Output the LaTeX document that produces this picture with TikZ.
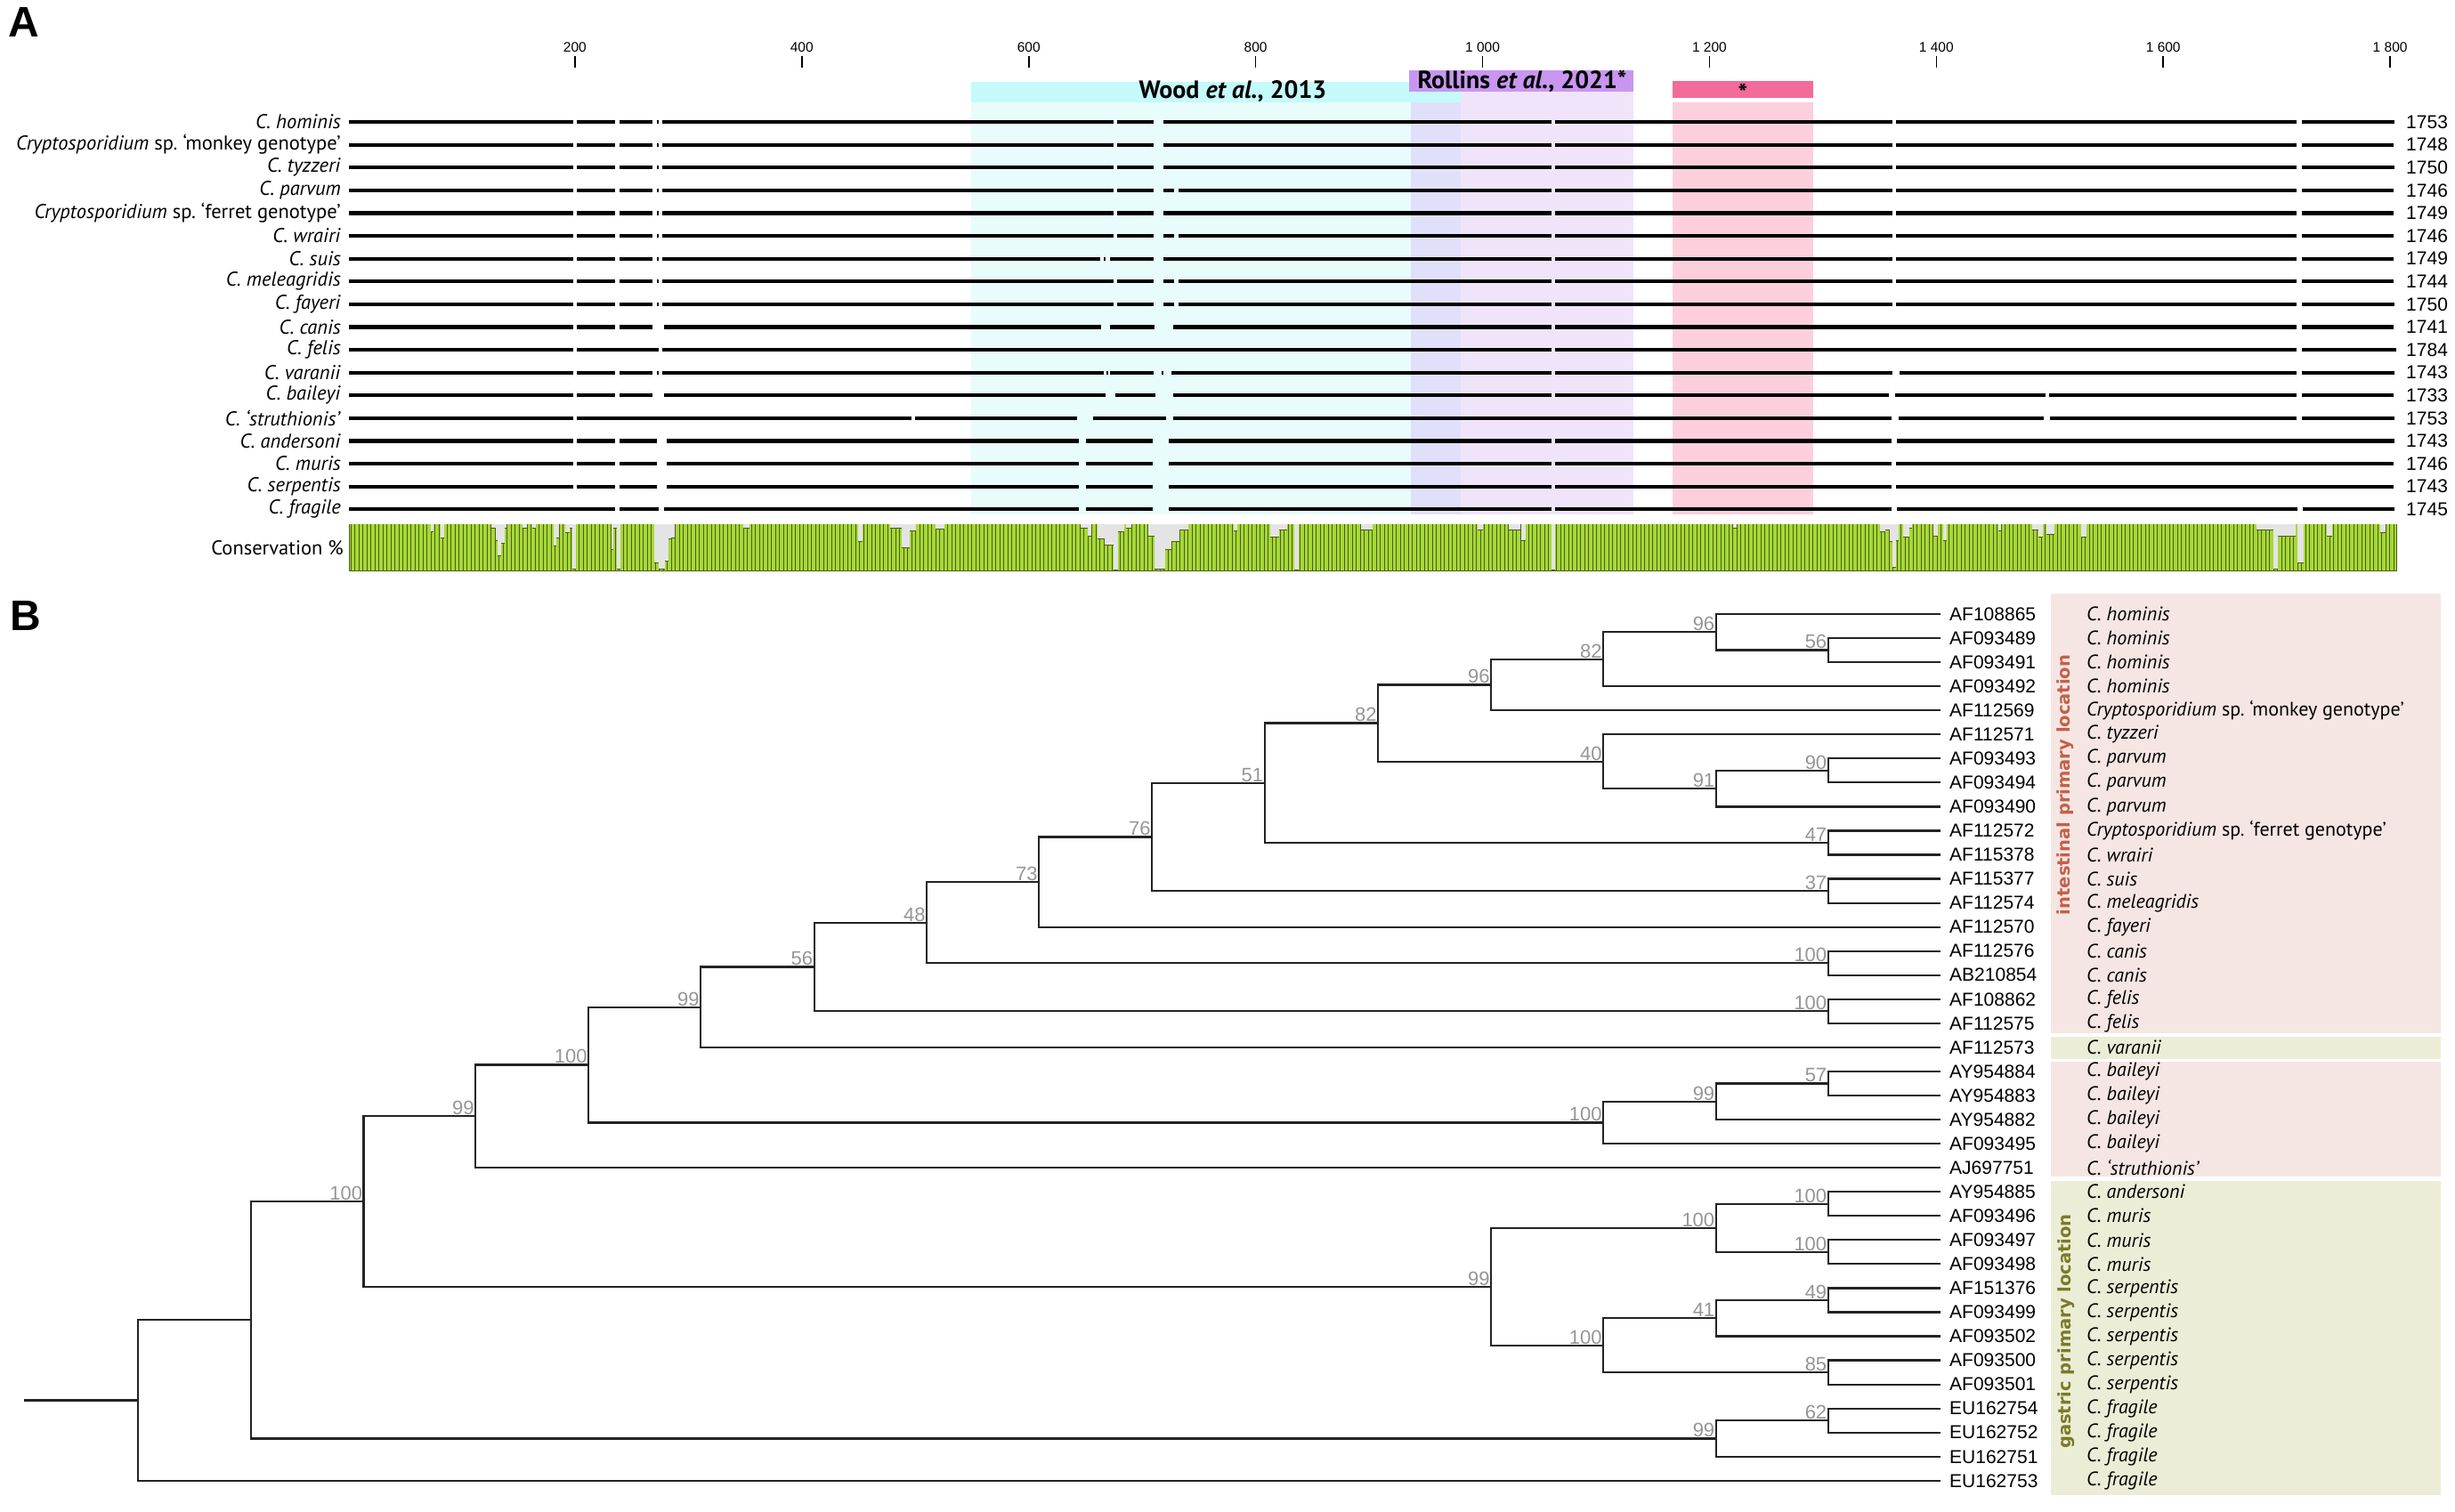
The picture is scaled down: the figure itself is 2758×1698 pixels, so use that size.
\documentclass[tikz,border=0pt]{standalone}
\usepackage{fontspec}
\setmainfont{Liberation Sans}
\newfontfamily\pts{PT Sans}
\newfontfamily\dvs{DejaVu Sans}
\definecolor{cyanH}{HTML}{C4FAFA}
\definecolor{cyanL}{HTML}{E8FCFC}
\definecolor{lavL}{HTML}{E0E0FA}
\definecolor{purH}{HTML}{C896F0}
\definecolor{purL}{HTML}{F0E4FA}
\definecolor{pinkH}{HTML}{F26B9B}
\definecolor{pinkL}{HTML}{FDCFDD}
\definecolor{consG}{HTML}{A6D838}
\definecolor{consD}{HTML}{4B5F12}
\definecolor{dipG}{HTML}{E4E4E4}
\definecolor{boxP}{HTML}{F5E6E3}
\definecolor{boxG}{HTML}{ECEDD6}
\definecolor{intC}{RGB}{196,96,72}
\definecolor{gasC}{RGB}{122,122,40}
\definecolor{bootC}{RGB}{150,150,150}
\definecolor{treeC}{RGB}{35,35,35}
\begin{document}
\begin{tikzpicture}[x=1pt,y=-1pt,
  seq/.style={line width=4.2pt,black},
  spA/.style={font=\pts\fontsize{22.5}{25}\selectfont,anchor=east,inner sep=0pt},
  lenA/.style={font=\fontsize{21}{24}\selectfont,anchor=west,inner sep=0pt},
  tickA/.style={font=\fontsize{15.5}{18}\selectfont,anchor=center,inner sep=0pt},
  hdr/.style={font=\pts\bfseries\fontsize{28}{32}\selectfont,inner sep=0pt},
  branch/.style={line width=2.2pt,treeC},
  boot/.style={font=\fontsize{22}{24}\selectfont,text=bootC,anchor=south east,inner sep=1.2pt},
  acc/.style={font=\fontsize{21}{24}\selectfont,anchor=west,inner sep=0pt},
  spB/.style={font=\pts\fontsize{22}{25}\selectfont,anchor=west,inner sep=0pt},
  vlab/.style={font=\dvs\bfseries\fontsize{19.5}{22}\selectfont,rotate=90,inner sep=0pt},
  panel/.style={font=\bfseries\fontsize{48}{50}\selectfont,anchor=north west,inner sep=0pt}]
\useasboundingbox (0,0) rectangle (2758,1698);
\fill[white] (0,0) rectangle (2758,1698);

% ---------------- Panel A ----------------
\node[panel] (labA) at (9,8) {A};
\node[panel] (labB) at (11,675) {B};

% highlight regions
\fill[purL] (1583,103) rectangle (1835,578);
\fill[cyanL] (1091,115) rectangle (1585,578);
\fill[lavL] (1585,115) rectangle (1641,578);
\fill[pinkL] (1879,115) rectangle (2037,578);
\fill[cyanH] (1091,92) rectangle (1641,115);
\fill[purH] (1583,79) rectangle (1835,103);
\fill[pinkH] (1879,91) rectangle (2037,110);
\node[hdr] (wood) at (1385,103) {Wood \textit{et al.}, 2013};
\node[hdr] (rollins) at (1710,91) {Rollins \textit{et al.}, 2021*};
\node[hdr] (star) at (1958,104) {*};

% ruler
\foreach \v/\lab in {200/200,400/400,600/600,800/800,1000/1 000,1200/1 200,1400/1 400,1600/1 600,1800/1 800}{
  \draw[line width=1.6pt] (391+1.2745*\v,63) -- (391+1.2745*\v,76);
  \node[tickA] (tk\v) at (391+1.2745*\v,53) {\lab};
}

% sequences
\foreach \i/\segs in {
 0/{392/644,648/691,696/733,738/740,744/1251,1255/1296,1307/1743,1747/2126,2130/2580,2586/2690},
 1/{392/644,648/691,696/733,738/740,744/1251,1255/1296,1307/1743,1747/2126,2130/2580,2586/2689},
 2/{392/644,648/691,696/733,738/740,744/1251,1255/1296,1307/1743,1747/2126,2130/2580,2586/2690},
 3/{392/644,648/691,696/733,738/740,744/1251,1255/1296,1307/1319,1324/1743,1747/2126,2130/2580,2586/2689},
 4/{392/644,648/691,696/733,738/740,744/1251,1255/1296,1307/1743,1747/2126,2130/2580,2586/2689},
 5/{392/644,648/691,696/733,738/740,744/1251,1255/1296,1307/1319,1324/1743,1747/2126,2130/2580,2586/2689},
 6/{392/644,648/691,696/733,738/740,744/1236,1240/1242,1247/1296,1307/1743,1747/2126,2130/2580,2586/2689},
 7/{392/644,648/691,696/733,738/740,744/1251,1255/1296,1307/1319,1324/1743,1747/2126,2130/2580,2586/2689},
 8/{392/644,648/691,696/733,738/740,744/1251,1255/1296,1307/1319,1324/1743,1747/2126,2130/2580,2586/2690},
 9/{392/644,648/691,696/733,746/1237,1247/1297,1318/1743,1747/2580,2586/2689},
 10/{392/644,648/740,744/1743,1747/2580,2586/2692},
 11/{392/644,648/691,696/733,738/740,744/1240,1243/1245,1247/1296,1305/1307,1316/1743,1747/2126,2134/2580,2586/2690},
 12/{392/644,648/691,696/733,746/1242,1253/1298,1318/1743,1747/2122,2129/2298,2302/2580,2586/2689},
 13/{392/644,648/1024,1028/1210,1228/1310,1318/2125,2133/2296,2303/2580,2586/2690},
 14/{392/644,648/691,696/738,749/1212,1220/1295,1313/1743,1747/2125,2131/2690},
 15/{392/644,648/691,696/738,749/1212,1220/1295,1313/1743,1747/2125,2130/2689},
 16/{392/644,648/691,696/738,749/1212,1220/1295,1313/1743,1747/2125,2130/2689},
 17/{392/691,696/740,746/1212,1220/1295,1313/1743,1747/2125,2131/2581,2587/2690}}{
  \foreach \a/\b in \segs { \draw[seq] (\a,137+25.6*\i) -- (\b,137+25.6*\i); }
}

% species labels and lengths (panel A)
\foreach \i/\sp/\len in {
 0/{\textit{C. hominis}}/1753,
 1/{\textit{Cryptosporidium} sp.\ ‘monkey genotype’}/1748,
 2/{\textit{C. tyzzeri}}/1750,
 3/{\textit{C. parvum}}/1746,
 4/{\textit{Cryptosporidium} sp.\ ‘ferret genotype’}/1749,
 5/{\textit{C. wrairi}}/1746,
 6/{\textit{C. suis}}/1749,
 7/{\textit{C. meleagridis}}/1744,
 8/{\textit{C. fayeri}}/1750,
 9/{\textit{C. canis}}/1741,
 10/{\textit{C. felis}}/1784,
 11/{\textit{C. varanii}}/1743,
 12/{\textit{C. baileyi}}/1733,
 13/{\textit{C. ‘struthionis’}}/1753,
 14/{\textit{C. andersoni}}/1743,
 15/{\textit{C. muris}}/1746,
 16/{\textit{C. serpentis}}/1743,
 17/{\textit{C. fragile}}/1745}{
  \node[spA] (spA\i) at (383,137+25.6*\i) {\sp};
  \node[lenA] (len\i) at (2703,137+25.6*\i) {\len};
}

% conservation bar
\fill[consG] (392,589) rectangle (2692,641);
\foreach \x in {394,398.5,...,2690}{ \draw[consD,line width=0.85pt] (\x,589) -- (\x,641); }
\foreach \a/\b/\d in {484/487/597,495/499/604,552/557/593,557/559/607,559/563/624,563/567/610,567/569/593,
 587/592/593,598/602/593,622/625/613,625/628/604,635/640/598,640/643/593,643/647/639,
 687/689/617,689/693/593,693/697/639,735/740/632,740/747/639,747/751/630,751/754/605,754/758/604,
 835/842/593,964/969/608,1000/1013/593,1013/1022/615,1022/1029/596,1051/1061/594,
 1214/1222/593,1222/1226/602,1233/1241/605,1241/1251/612,1251/1256/640,1256/1263/597,1265/1271/593,
 1290/1297/602,1297/1309/639,1309/1316/617,1316/1325/608,1325/1335/595,
 1386/1390/596,1427/1437/603,1437/1446/595,1454/1459/640,1529/1542/595,1660/1666/595,1695/1708/595,
 1709/1714/607,1743/1747/640,1947/1951/593,2112/2118/597,2118/2123/595,2123/2126/608,2126/2130/637,
 2130/2133/607,2138/2145/603,2145/2148/593,2172/2177/602,2183/2187/607,2245/2248/596,
 2283/2290/595,2290/2295/603,2299/2308/600,2338/2344/603,2535/2554/595,2554/2559/639,
 2559/2579/602,2581/2588/632,2614/2620/602,2674/2680/598}{
  \fill[dipG] (\a,589) rectangle (\b,\d);
  \draw[consD,line width=0.8pt] (\a,\d) -- (\b,\d);
}
\draw[consD,line width=1pt] (392,589) -- (392,641) -- (2692,641) -- (2692,589);
\node[font=\pts\fontsize{22.5}{25}\selectfont,anchor=east,inner sep=0pt] (cons) at (386,616) {Conservation \%};

% ---------------- Panel B ----------------
\fill[boxP] (2304,667) rectangle (2742,1161);
\fill[boxG] (2304,1164.5) rectangle (2742,1189.5);
\fill[boxP] (2304,1192.5) rectangle (2742,1322);
\fill[boxG] (2304,1327) rectangle (2742,1679.5);
\node[vlab,text=intC] (intlab) at (2320,882) {intestinal primary location};
\node[vlab,text=gasC] (gaslab) at (2321,1496) {gastric primary location};

% tips
\foreach \i/\ac/\sp in {
 0/AF108865/{C. hominis},1/AF093489/{C. hominis},2/AF093491/{C. hominis},3/AF093492/{C. hominis},
 4/AF112569/{\textit{Cryptosporidium} sp.\ ‘monkey genotype’},5/AF112571/{C. tyzzeri},
 6/AF093493/{C. parvum},7/AF093494/{C. parvum},8/AF093490/{C. parvum},
 9/AF112572/{\textit{Cryptosporidium} sp.\ ‘ferret genotype’},10/AF115378/{C. wrairi},
 11/AF115377/{C. suis},12/AF112574/{C. meleagridis},13/AF112570/{C. fayeri},
 14/AF112576/{C. canis},15/AB210854/{C. canis},16/AF108862/{C. felis},17/AF112575/{C. felis},
 18/AF112573/{C. varanii},19/AY954884/{C. baileyi},20/AY954883/{C. baileyi},21/AY954882/{C. baileyi},
 22/AF093495/{C. baileyi},23/AJ697751/{C. ‘struthionis’},24/AY954885/{C. andersoni},
 25/AF093496/{C. muris},26/AF093497/{C. muris},27/AF093498/{C. muris},
 28/AF151376/{C. serpentis},29/AF093499/{C. serpentis},30/AF093502/{C. serpentis},
 31/AF093500/{C. serpentis},32/AF093501/{C. serpentis},
 33/EU162754/{C. fragile},34/EU162752/{C. fragile},35/EU162751/{C. fragile},36/EU162753/{C. fragile}}{
  \coordinate (t\i) at (2180,690+27.05*\i);
  \node[acc] (ac\i) at (2190,690+27.05*\i) {\ac};
  \ifnum\i=4 \node[spB] (sp\i) at (2344,690+27.05*\i) {\sp};
  \else\ifnum\i=9 \node[spB] (sp\i) at (2344,690+27.05*\i) {\sp};
  \else \node[spB] (sp\i) at (2344,690+27.05*\i) {\itshape\sp};\fi\fi
}

% internal nodes
\coordinate (n56) at (2053.6,730.575);
\coordinate (n96b) at (1927.6,710.29);
\coordinate (n82b) at (1801,740.72);
\coordinate (n96a) at (1675,769.46);
\coordinate (n90) at (2053.6,865.825);
\coordinate (n91) at (1927.6,886.11);
\coordinate (n40) at (1801,855.68);
\coordinate (n82a) at (1548,812.57);
\coordinate (n47) at (2053.6,946.975);
\coordinate (n51) at (1420.6,879.77);
\coordinate (n37) at (2053.6,1001.075);
\coordinate (n76) at (1294,940.42);
\coordinate (n73) at (1167,991.04);
\coordinate (ncan) at (2053.6,1082.225);
\coordinate (n48) at (1041,1036.63);
\coordinate (nfel) at (2053.6,1136.325);
\coordinate (n56b) at (914.6,1086.48);
\coordinate (n99a) at (787,1131.69);
\coordinate (n57) at (2053.6,1217.475);
\coordinate (n99b) at (1927.6,1237.76);
\coordinate (n100b) at (1801,1261.43);
\coordinate (n100a) at (661,1196.56);
\coordinate (n99c) at (534,1254.36);
\coordinate (nand) at (2053.6,1352.725);
\coordinate (nmur) at (2053.6,1406.825);
\coordinate (n100c) at (1927.6,1379.775);
\coordinate (n49) at (2053.6,1460.925);
\coordinate (n41) at (1927.6,1481.21);
\coordinate (n85) at (2053.6,1542.075);
\coordinate (n100d) at (1801,1511.64);
\coordinate (n99d) at (1675,1445.71);
\coordinate (n100e) at (408.5,1350.03);
\coordinate (n62) at (2053.6,1596.175);
\coordinate (n99e) at (1927.6,1616.46);
\coordinate (n1) at (282,1483.25);
\coordinate (root) at (155,1573.5);
\coordinate (stub) at (27,1573.5);

\foreach \n/\a/\b/\lab in {
 n56/t1/t2/56, n96b/t0/n56/96, n82b/n96b/t3/82, n96a/n82b/t4/96,
 n90/t6/t7/90, n91/n90/t8/91, n40/t5/n91/40, n82a/n96a/n40/82,
 n47/t9/t10/47, n51/n82a/n47/51, n37/t11/t12/37, n76/n51/n37/76,
 n73/n76/t13/73, ncan/t14/t15/100, n48/n73/ncan/48, nfel/t16/t17/100,
 n56b/n48/nfel/56, n99a/n56b/t18/99, n57/t19/t20/57, n99b/n57/t21/99,
 n100b/n99b/t22/100, n100a/n99a/n100b/100, n99c/n100a/t23/99,
 nand/t24/t25/100, nmur/t26/t27/100, n100c/nand/nmur/100,
 n49/t28/t29/49, n41/n49/t30/41, n85/t31/t32/85, n100d/n41/n85/100,
 n99d/n100c/n100d/99, n100e/n99c/n99d/100, n62/t33/t34/62, n99e/n62/t35/99}{
  \draw[branch] (\a) -| (\n) |- (\b);
  \node[boot] (bs\n) at (\n) {\lab};
}
\draw[branch] (n100e) -| (n1) |- (n99e);
\draw[branch] (n1) -| (root) |- (t36);
\draw[branch] (stub) -- (root);
\end{tikzpicture}
\end{document}
